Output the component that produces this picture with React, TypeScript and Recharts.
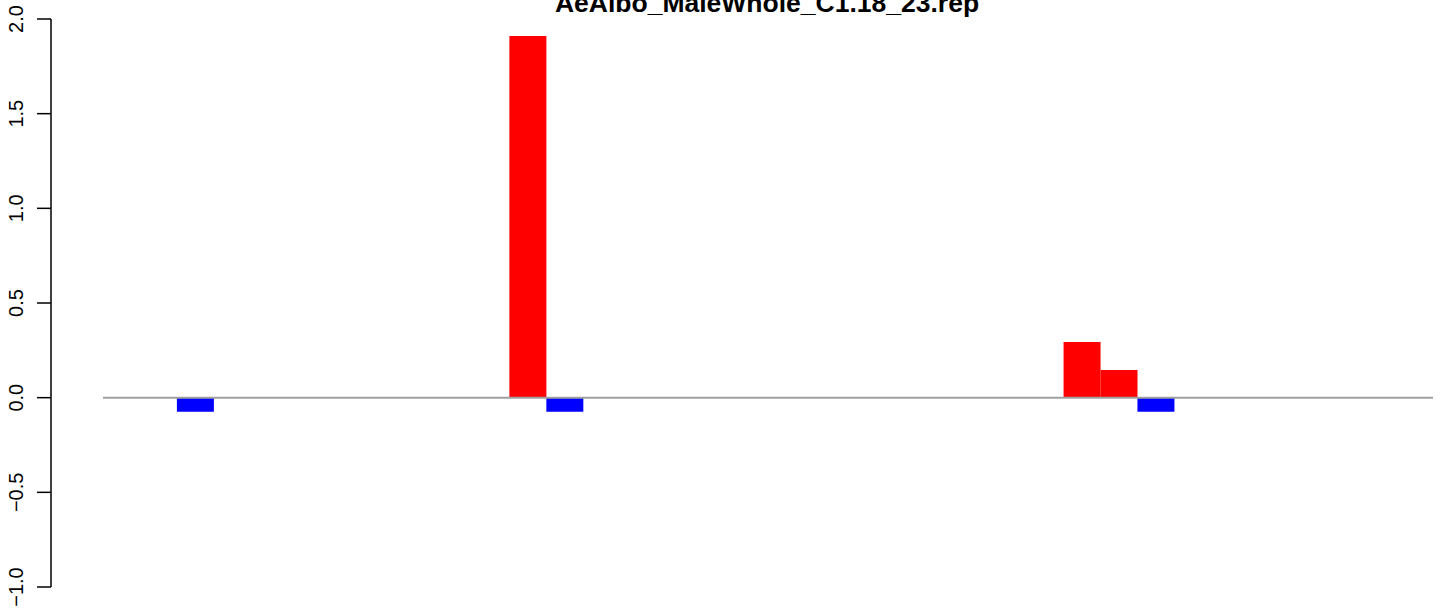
import { BarChart, Bar, Cell, XAxis, YAxis, ReferenceLine } from 'recharts'

const title = 'AeAlbo_MaleWhole_C1.18_23.rep'

// one slot per bar, left to right
const positions = Array.from({ length: 36 }, (_, i) => `${i + 1}`)
const values = [
  0, 0, -0.074, 0, 0, 0, 0, 0, 0, 0, 0, 1.91,
  -0.074, 0, 0, 0, 0, 0, 0, 0, 0, 0, 0, 0,
  0, 0, 0.294, 0.146, -0.074, 0, 0, 0, 0, 0, 0, 0,
]
const yTicks = [-1, -0.5, 0, 0.5, 1, 1.5, 2]

const data = positions.map((name, i) => ({ name, value: values[i] }))

const font = '"Liberation Sans", Arial, Helvetica, sans-serif'

function RotatedTick(props: any) {
  const { x, y, payload } = props
  return (
    <text
      x={0}
      y={0}
      transform={`translate(${x - 12.5}, ${y}) rotate(-90)`}
      textAnchor="middle"
      fontSize={20}
      fontFamily={font}
      fill="#000"
    >
      {payload.value.toFixed(1).replace('-', '\u2212')}
    </text>
  )
}

export default function App() {
  return (
    <div style={{ position: 'absolute', left: 0, top: 0, width: 1444, height: 613, background: '#fff' }}>
      <BarChart
        width={1444}
        height={613}
        data={data}
        margin={{ top: 19, right: 11, bottom: 26, left: 0 }}
        barCategoryGap={0}
        barGap={0}
      >
        <XAxis dataKey="name" hide />
        {/* spacer between the axis and the first bar slot */}
        <YAxis
          yAxisId="aPad"
          width={52}
          domain={[-1, 2]}
          tick={false}
          axisLine={false}
          tickLine={false}
        />
        <YAxis
          yAxisId="yMain"
          width={51}
          domain={[-1, 2]}
          ticks={yTicks}
          interval={0}
          tickSize={14}
          tickMargin={2}
          axisLine={{ stroke: '#000', strokeWidth: 1.5 }}
          tickLine={{ stroke: '#000', strokeWidth: 1.5 }}
          tick={<RotatedTick />}
        />
        <Bar dataKey="value" yAxisId="yMain" isAnimationActive={false}>
          {data.map((d, i) => (
            <Cell key={`cell-${i}`} fill={d.value >= 0 ? '#ff0000' : '#0000ff'} />
          ))}
        </Bar>
        <ReferenceLine y={0} yAxisId="yMain" stroke="#a0a0a0" strokeWidth={2} />
      </BarChart>
      <svg
        width={1444}
        height={613}
        style={{ position: 'absolute', left: 0, top: 0, pointerEvents: 'none' }}
      >
        <text x={767} y={12} textAnchor="middle" fontSize={26.5} fontWeight="bold" fontFamily={font} fill="#000">
          {title}
        </text>
      </svg>
    </div>
  )
}
